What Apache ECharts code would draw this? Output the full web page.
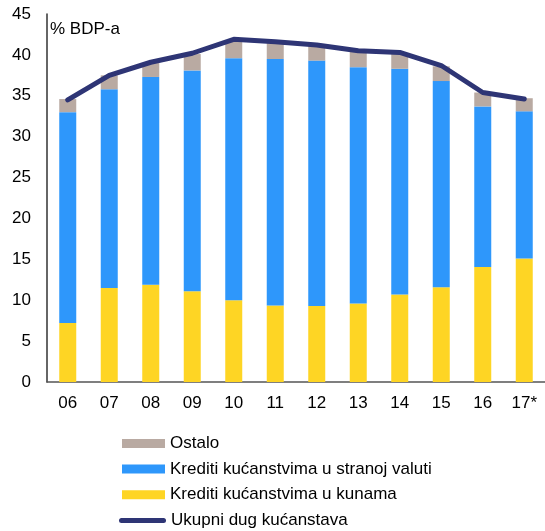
<!DOCTYPE html>
<html>
<head>
<meta charset="utf-8">
<script src="https://cdn.jsdelivr.net/npm/echarts@6/dist/echarts.min.js"></script>
<style>
  html, body { margin: 0; padding: 0; background: #fff; }
  #chart { width: 545px; height: 531px; }
</style>
</head>
<body>
<div id="chart"></div>
<script>
const years = ['06', '07', '08', '09', '10', '11', '12', '13', '14', '15', '16', '17*'];
const kune = [7.2, 11.5, 11.9, 11.1, 10.0, 9.35, 9.3, 9.6, 10.7, 11.6, 14.05, 15.1];
const stranaValuta = [25.8, 24.3, 25.4, 27.0, 29.6, 30.15, 30.0, 28.9, 27.6, 25.2, 19.65, 18.0];
const ostalo = [1.6, 1.7, 1.7, 2.0, 2.2, 2.0, 2.0, 1.9, 1.9, 1.8, 1.7, 1.6];
const ukupno = [34.5, 37.5, 39.1, 40.2, 41.9, 41.6, 41.2, 40.5, 40.3, 38.7, 35.4, 34.6];

const font = 'Liberation Sans, Arial, sans-serif';
const chart = echarts.init(document.getElementById('chart'));

// capsule shape for the line legend icon
const lineIcon = 'path://M2.5,0 L44.5,0 A2.5,2.5 0 0 1 44.5,5 L2.5,5 A2.5,2.5 0 0 1 2.5,0 Z';

const option = {
  animation: false,
  textStyle: { fontFamily: font },
  title: {
    text: '% BDP-a',
    left: 45,
    top: 16,
    textStyle: { fontFamily: font, fontSize: 17, fontWeight: 'normal', color: '#000' }
  },
  legend: [
    {
      orient: 'vertical',
      left: 117,
      top: 430,
      itemWidth: 43,
      itemHeight: 9,
      itemGap: 8.6,
      textStyle: { fontFamily: font, fontSize: 17, color: '#000' },
      data: [
        { name: 'Ostalo', icon: 'rect' },
        { name: 'Krediti kućanstvima u stranoj valuti', icon: 'rect' },
        { name: 'Krediti kućanstvima u kunama', icon: 'rect' }
      ]
    },
    {
      orient: 'vertical',
      left: 114,
      top: 507,
      itemWidth: 47,
      itemHeight: 5,
      textStyle: { fontFamily: font, fontSize: 17, color: '#000' },
      data: [{ name: 'Ukupni dug kućanstava', icon: lineIcon }]
    }
  ],
  grid: { left: 47, top: 14, width: 504, height: 368 },
  xAxis: {
    type: 'category',
    data: years,
    axisLine: { lineStyle: { color: '#555', width: 1.5 } },
    axisTick: { show: false },
    axisLabel: { color: '#000', fontSize: 17, margin: 13, fontFamily: font }
  },
  yAxis: {
    type: 'value',
    min: 0,
    max: 45,
    interval: 5,
    axisLine: { show: true, lineStyle: { color: '#333', width: 1.5 } },
    axisTick: { show: false },
    splitLine: { show: false },
    axisLabel: { color: '#000', fontSize: 17, margin: 16, fontFamily: font }
  },
  series: [
    {
      name: 'Krediti kućanstvima u kunama',
      type: 'bar',
      stack: 'dug',
      barWidth: 17,
      itemStyle: { color: '#fed524' },
      data: kune
    },
    {
      name: 'Krediti kućanstvima u stranoj valuti',
      type: 'bar',
      stack: 'dug',
      barWidth: 17,
      itemStyle: { color: '#2e97fb' },
      data: stranaValuta
    },
    {
      name: 'Ostalo',
      type: 'bar',
      stack: 'dug',
      barWidth: 17,
      itemStyle: { color: '#b9aaa2' },
      data: ostalo
    },
    {
      name: 'Ukupni dug kućanstava',
      type: 'line',
      symbol: 'none',
      lineStyle: { color: '#2e3575', width: 5, cap: 'round' },
      itemStyle: { color: '#2e3575' },
      data: ukupno
    }
  ]
};

chart.setOption(option);
</script>
</body>
</html>
